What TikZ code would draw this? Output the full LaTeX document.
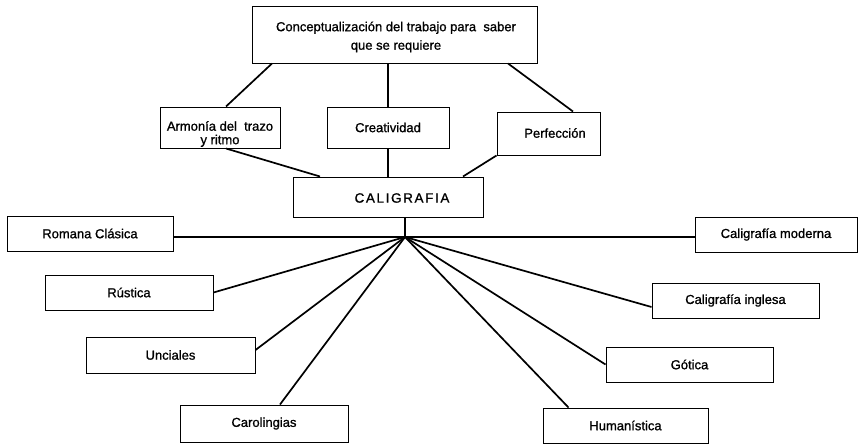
\documentclass[tikz,border=0pt]{standalone}
\usepackage{fontspec}
\setmainfont{Liberation Sans}[FakeBold=1]
\begin{document}
\begin{tikzpicture}[x=1pt,y=-1pt,
  box/.style={draw=black,line width=1pt,rectangle,inner sep=0pt,
    align=center,font=\fontsize{13}{15}\selectfont},
  txt/.style={inner sep=0pt,align=center,font=\fontsize{13}{15}\selectfont},
  link/.style={draw=black,line width=1.7pt}]
\useasboundingbox (0,0) rectangle (858,444);

% upper level
\node[box,minimum width=285pt,minimum height=56pt] (top) at (394.5,35) {};
\node[txt,font=\fontsize{13}{18.5}\selectfont] (topT) at (396,37)
  {Conceptualización del trabajo para \ saber\\que se requiere};
\node[box,minimum width=120pt,minimum height=41pt] (arm) at (220,127.5) {};
\node[txt,font=\fontsize{13}{13.5}\selectfont] (armT) at (220,134)
  {Armonía del \ trazo\\y ritmo};
\node[box,minimum width=122pt,minimum height=41pt] (creat) at (388,127.5) {Creatividad};
\node[box,minimum width=103pt,minimum height=43pt] (perf) at (548.5,133.5) {};
\node[txt] (perfT) at (555,133) {Perfección};

% central node
\node[box,minimum width=190pt,minimum height=40pt] (cal) at (388,197) {};
\node[txt,font=\fontsize{13.5}{15}\selectfont\addfontfeature{LetterSpace=12}] (calT) at (402,198) {CALIGRAFIA};
\coordinate (hub) at (405,237);

% styles of writing
\node[box,minimum width=166pt,minimum height=35pt] (rom) at (90,233.5) {Romana Clásica};
\node[box,minimum width=168pt,minimum height=35pt] (rus) at (129,292.5) {Rústica};
\node[box,minimum width=169pt,minimum height=36pt] (unc) at (170.5,355) {Unciales};
\node[box,minimum width=168pt,minimum height=37pt] (car) at (264,423.5) {Carolingias};
\node[box,minimum width=162pt,minimum height=35pt] (mod) at (776,234.5) {Caligrafía moderna};
\node[box,minimum width=167pt,minimum height=35pt] (ing) at (735.5,300.5) {Caligrafía inglesa};
\node[box,minimum width=167pt,minimum height=35pt] (got) at (689.5,364.5) {Gótica};
\node[box,minimum width=165pt,minimum height=35pt] (hum) at (625.5,425.5) {Humanística};

% connectors, upper level
\draw[link] ([xshift=-122.5pt]top.south) -- ([xshift=6pt]arm.north);
\draw[link] (creat.north |- top.south) -- (creat.north);
\draw[link] ([xshift=113.5pt]top.south) -- ([xshift=24.5pt]perf.north);
\draw[link] ([xshift=6pt]arm.south) -- ([xshift=-68pt]cal.north);
\draw[link] (creat.south) -- (cal.north);
\draw[link] (perf.south west) -- ([xshift=75pt]cal.north);

% connectors from the hub
\draw[link] (hub |- cal.south) -- (hub);
\draw[link] (hub) -- (hub -| rom.east);
\draw[link] (hub) -- (rus.east);
\draw[link] (hub) -- ([yshift=5pt]unc.east);
\draw[link] (hub) -- ([xshift=16pt]car.north);
\draw[link] (hub) -- (hub -| mod.west);
\draw[link] (hub) -- ([yshift=-6.5pt]ing.west);
\draw[link] (hub) -- (got.west);
\draw[link] (hub) -- ([xshift=-57pt]hum.north);
\end{tikzpicture}
\end{document}
